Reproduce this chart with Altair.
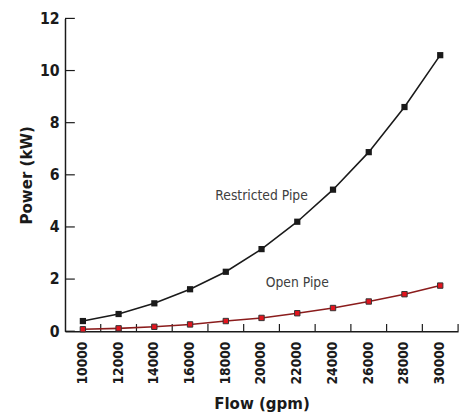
import altair as alt
import pandas as pd

flow = [10000, 12000, 14000, 16000, 18000, 20000, 22000, 24000, 26000, 28000, 30000]
restricted = [0.39, 0.66, 1.07, 1.61, 2.28, 3.15, 4.20, 5.43, 6.87, 8.60, 10.59]
open_pipe = [0.075, 0.11, 0.17, 0.26, 0.39, 0.51, 0.69, 0.89, 1.14, 1.42, 1.75]
y_ticks = [0, 2, 4, 6, 8, 10, 12]
label_text = ["Restricted Pipe", "Open Pipe"]
label_flow = [20000, 22000]
label_power = [5.18, 1.86]

FONT = "'DejaVu Sans Condensed', 'Liberation Sans Narrow', 'Liberation Sans', sans-serif"

df_r = pd.DataFrame({"flow": flow, "power": restricted})
df_o = pd.DataFrame({"flow": flow, "power": open_pipe})
df_yt = pd.DataFrame({"v": y_ticks})
df_lab = pd.DataFrame({"t": label_text, "flow": label_flow, "power": label_power})

xscale = alt.Scale(type="band", paddingInner=0, paddingOuter=0, domain=flow)
yscale = alt.Scale(domain=[0, 12], nice=False)

xenc = alt.X("flow:O", scale=xscale,
             axis=alt.Axis(title="Flow (gpm)", labelAngle=-90, ticks=False,
                           labelPadding=10, titlePadding=12, labelFontSize=14))
yenc = alt.Y("power:Q", scale=yscale,
             axis=alt.Axis(title="Power (kW)", values=y_ticks, ticks=False,
                           labelPadding=6, titlePadding=4, grid=False, labelFontSize=16))

restr_line = alt.Chart(df_r).mark_line(color="#1a1a1a", strokeWidth=1.6).encode(x=xenc, y=yenc)
restr_pts = alt.Chart(df_r).mark_point(shape="square", filled=True, color="#1a1a1a",
                                        size=40, opacity=1).encode(x=xenc, y=yenc)
open_line = alt.Chart(df_o).mark_line(color="#8b1c1c", strokeWidth=1.6).encode(x=xenc, y=yenc)
open_pts = alt.Chart(df_o).mark_point(shape="square", filled=True, fill="#e3141e",
                                      stroke="#333333", strokeWidth=1, size=30,
                                      opacity=1).encode(x=xenc, y=yenc)

ytick_rules = alt.Chart(df_yt).mark_rule(color="#1a1a1a", strokeWidth=1.2).encode(
    y=alt.Y("v:Q", scale=yscale), x=alt.value(0), x2=alt.value(10))
xtick_rules = alt.Chart(df_r).mark_rule(color="#1a1a1a", strokeWidth=1.2).encode(
    x=alt.X("flow:O", scale=xscale, bandPosition=1), y=alt.value(311), y2=alt.value(318.3))

labels = alt.Chart(df_lab).mark_text(font=FONT, fontSize=14, color="#404040").encode(
    x=alt.X("flow:O", scale=xscale), y=alt.Y("power:Q", scale=yscale), text="t:N")

chart = alt.layer(ytick_rules, xtick_rules, restr_line, open_line, restr_pts, open_pts, labels).properties(
    width=400, height=318.3,
    autosize=alt.AutoSizeParams(type="none"),
    padding={"left": 58, "top": 7, "right": 5, "bottom": 84},
).configure_view(stroke=None).configure_axis(
    domainColor="#1a1a1a", domainWidth=1.5,
    labelFont=FONT, labelFontWeight="bold", labelColor="#1a1a1a",
    titleFont=FONT, titleFontWeight="bold", titleFontSize=17, titleColor="#1a1a1a",
)

chart.save("out.html", embed_options={"renderer": "svg", "actions": False})
